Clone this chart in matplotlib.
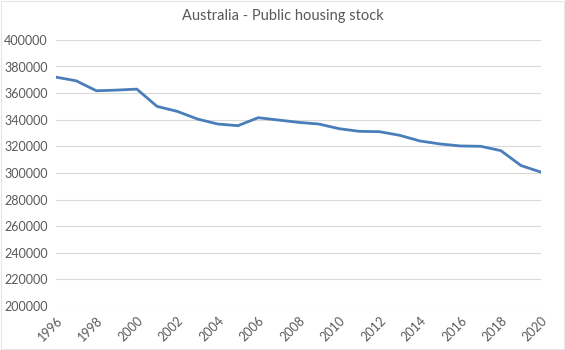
import matplotlib
matplotlib.use("Agg")
import matplotlib.pyplot as plt
from matplotlib.patches import Rectangle

years = list(range(1996, 2021))
stock = [372000, 369250, 361750, 362250, 363000, 350000, 346250, 340500,
         336750, 335500, 341500, 339750, 338000, 336750, 333250, 331250,
         331000, 328250, 324000, 321750, 320250, 320000, 316750, 305500,
         300500]
title = "Australia - Public housing stock"
yticks = list(range(200000, 400001, 20000))
xticks = list(range(1996, 2021, 2))

plt.rcParams['font.family'] = ['Lato', 'DejaVu Sans']
fig = plt.figure(figsize=(5.65, 3.5), dpi=100)
ax = fig.add_axes([0.099, 0.126, 0.859, 0.760])
ax.plot(years, stock, color='#4A7EBB', linewidth=2.0, solid_joinstyle='round')
ax.set_xlim(1996, 2020)
ax.set_ylim(200000, 400000)
ax.set_yticks(yticks)
ax.set_yticklabels([str(v) for v in yticks], fontsize=9, color='#595959')
ax.set_xticks(xticks)
ax.set_xticklabels([str(v) for v in xticks], fontsize=9, color='#595959',
                   rotation=45, ha='right', rotation_mode='anchor')
ax.tick_params(axis='both', length=0, pad=6)
ax.grid(axis='y', color='#D9D9D9', linewidth=0.8)
ax.set_axisbelow(True)
for s in ax.spines.values():
    s.set_visible(False)
fig.text(0.5, 0.955, title, ha='center', va='center', fontsize=10.5, color='#595959')
fig.patches.append(Rectangle((0.002, 0.002), 0.996, 0.996, transform=fig.transFigure,
                             fill=False, edgecolor='#E6E6E6', linewidth=0.8))
fig.savefig('out.png', dpi=100)
